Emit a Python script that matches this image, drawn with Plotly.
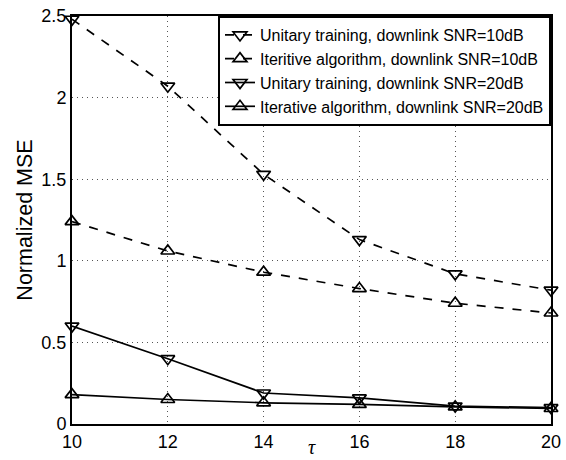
import plotly.graph_objects as go

tau = [10, 12, 14, 16, 18, 20]
unitary_10 = [2.48, 2.07, 1.53, 1.13, 0.92, 0.82]
iter_10 = [1.24, 1.06, 0.93, 0.83, 0.74, 0.68]
unitary_20 = [0.60, 0.40, 0.19, 0.16, 0.11, 0.10]
iter_20 = [0.18, 0.15, 0.13, 0.12, 0.105, 0.095]

names = [
    "Unitary training, downlink SNR=10dB",
    "Iteritive algorithm, downlink SNR=10dB",
    "Unitary training, downlink SNR=20dB",
    "Iterative algorithm, downlink SNR=20dB",
]
series = [unitary_10, iter_10, unitary_20, iter_20]
symbols = ["triangle-down-open", "triangle-up-open", "triangle-down-open", "triangle-up-open"]
dashes = ["dash", "dash", "solid", "solid"]

FONT = "Arial, Liberation Sans, sans-serif"

fig = go.Figure()
for n, s, sym, d in zip(names, series, symbols, dashes):
    fig.add_trace(go.Scatter(
        x=tau, y=s, name=n, mode="lines+markers", cliponaxis=False,
        line=dict(color="black", width=1.7, dash=d),
        marker=dict(symbol=sym, size=12, color="black", line=dict(width=1.7, color="black")),
    ))

fig.update_xaxes(range=[10, 20], tick0=10, dtick=2,
                 showline=True, mirror=True, linecolor="black", linewidth=2,
                 griddash="1px,4px", gridcolor="#555555",
                 tickfont=dict(family=FONT, size=18, color="black"))
fig.update_yaxes(range=[0, 2.5], tick0=0, dtick=0.5,
                 showline=True, mirror=True, linecolor="black", linewidth=2,
                 griddash="1px,4px", gridcolor="#555555",
                 tickfont=dict(family=FONT, size=18, color="black"),
                 title=dict(text="Normalized MSE", font=dict(family=FONT, size=21.5, color="black"), standoff=3))

fig.add_annotation(text="<i>τ</i>", xref="x", yref="paper", x=15, y=-36 / 408,
                   yanchor="bottom", showarrow=False,
                   font=dict(family="Times New Roman, Liberation Serif, serif", size=20, color="black"))

fig.update_layout(
    width=566, height=460,
    margin=dict(l=72, r=15, t=16, b=36, autoexpand=False),
    plot_bgcolor="white", paper_bgcolor="white",
    showlegend=True,
    legend=dict(x=1, y=1, xanchor="right", yanchor="top",
                bgcolor="white", bordercolor="black", borderwidth=2,
                font=dict(family=FONT, size=16, color="black"),
                tracegroupgap=0, itemwidth=30),
)

fig.write_html(
    "out.html",
    config={"displayModeBar": False},
    post_script="document.body.style.margin='0';document.body.style.overflow='hidden';",
)
